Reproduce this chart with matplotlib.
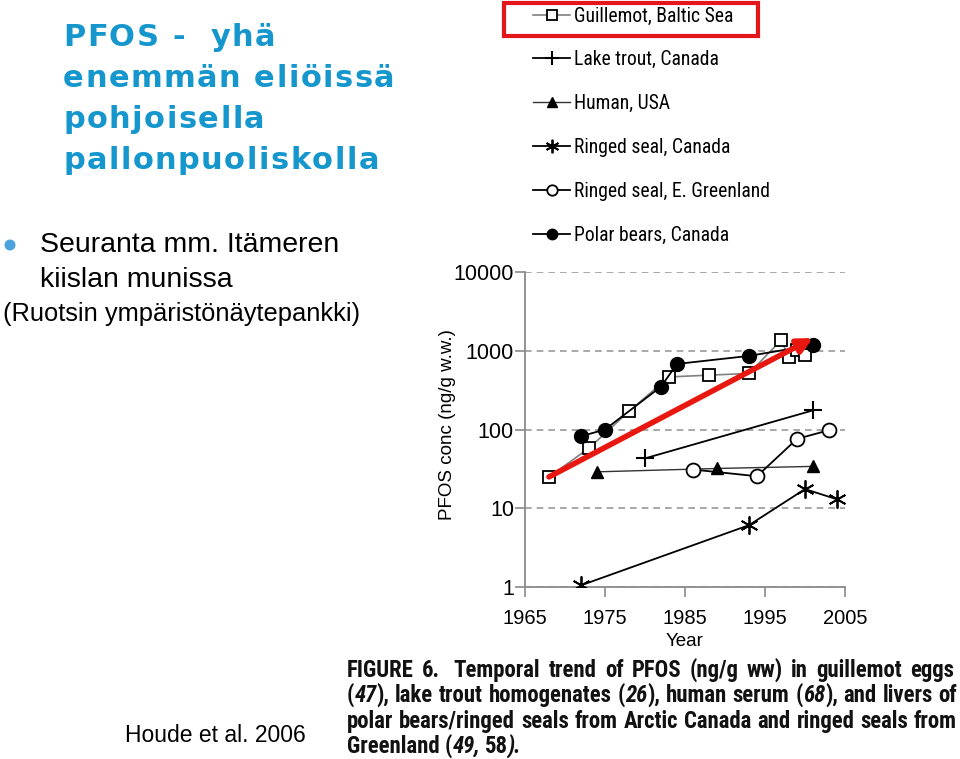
import os
import matplotlib
matplotlib.use('Agg')
import matplotlib.pyplot as plt
from matplotlib import font_manager as fm
from matplotlib.transforms import IdentityTransform
from matplotlib.patches import Rectangle, Circle
from matplotlib.ticker import FixedLocator, FixedFormatter, NullLocator

W, H = 960, 759

# data (year, PFOS ng/g w.w.)
guillemot_years = [1968, 1973, 1978, 1983, 1988, 1993, 1997, 1998, 1999, 2000]
guillemot_vals = [25, 58, 170, 465, 490, 515, 1360, 830, 1010, 890]
trout_years = [1980, 2001]
trout_vals = [43, 175]
human_years = [1974, 1989, 2001]
human_vals = [29, 32, 34]
sealca_years = [1972, 1993, 2000, 2004]
sealca_vals = [1.05, 6.1, 17.5, 13]
sealgl_years = [1986, 1994, 1999, 2003]
sealgl_vals = [31, 25.5, 76, 98]
bear_years = [1972, 1975, 1982, 1984, 1993, 2001]
bear_vals = [82, 100, 350, 680, 860, 1180]
arrow_start = (1968, 25)
arrow_end = (2001, 1450)

yticks = [1, 10, 100, 1000, 10000]
xticks = [1965, 1975, 1985, 1995, 2005]

labels = ['Guillemot, Baltic Sea', 'Lake trout, Canada', 'Human, USA',
          'Ringed seal, Canada', 'Ringed seal, E. Greenland', 'Polar bears, Canada']

title_lines = ['PFOS -  yhä', 'enemmän eliöissä', 'pohjoisella', 'pallonpuoliskolla']
caption_lines = ['FIGURE 6.  Temporal trend of PFOS (ng/g ww) in guillemot eggs',
                 '(_47_), lake trout homogenates (_26_), human serum (_68_), and livers of',
                 'polar bears/ringed seals from Arctic Canada and ringed seals from',
                 'Greenland (_49, 58_).']

plt.rcParams['font.family'] = ['Liberation Sans', 'DejaVu Sans']

fig = plt.figure(figsize=(W / 100, H / 100), dpi=100)
fig.patch.set_facecolor('white')
ren = fig.canvas.get_renderer()


def px(x, y):
    # pixel coords measured from top-left
    return x, H - y


def text_w(s, **kw):
    t = fig.text(0, 0, s + '|', transform=IdentityTransform(), **kw)
    t2 = fig.text(0, 0, '|', transform=IdentityTransform(), **kw)
    w = t.get_window_extent(ren).width - t2.get_window_extent(ren).width
    t.remove()
    t2.remove()
    return w


def text_h(s, **kw):
    t = fig.text(0, 0, s, transform=IdentityTransform(), **kw)
    h = t.get_window_extent(ren).height
    t.remove()
    return h


def tracked(x, y, s, track, **kw):
    for ch in s:
        if ch != ' ':
            fig.text(*px(x, y), ch, transform=IdentityTransform(), va='baseline', **kw)
        x += text_w(ch, **kw) + track


def split_words(line):
    words = []
    for w in line.split(' '):
        pieces = []
        for i, p in enumerate(w.split('_')):
            if p:
                pieces.append((p, 'italic' if i % 2 else 'normal'))
        words.append(pieces)
    return words


def natural_w(line, **kw):
    words = split_words(line)
    ws = sum(text_w(p, style=st, **kw) for wd in words for p, st in wd)
    return ws + text_w(' ', **kw) * (len(words) - 1)


def justified(x0, x1, y, line, justify, **kw):
    words = split_words(line)
    widths = [sum(text_w(p, style=st, **kw) for p, st in wd) for wd in words]
    sp = text_w(' ', **kw)
    if justify and len(words) > 1:
        gap = (x1 - x0 - sum(widths)) / (len(words) - 1)
    else:
        gap = sp
    x = x0
    for wd, wdw in zip(words, widths):
        if not wd:
            x += sp
            continue
        xx = x
        for p, st in wd:
            fig.text(*px(xx, y), p, transform=IdentityTransform(), va='baseline',
                     style=st, **kw)
            xx += text_w(p, style=st, **kw)
        x += wdw + gap


def pick_condensed(weight):
    cands = [('Liberation Sans Narrow', 'normal'), ('Arial Narrow', 'normal'),
             ('Roboto Condensed', 'normal'), ('DejaVu Sans', 'condensed'),
             ('DejaVu Sans Condensed', 'normal'), ('Noto Sans', 'condensed'),
             ('Noto Sans Condensed', 'normal'), ('Open Sans', 'condensed'),
             ('Open Sans Condensed', 'normal'), ('Roboto', 'condensed')]
    for fam, st in cands:
        fp = fm.FontProperties(family=fam, weight=weight, stretch=st)
        try:
            f = fm.findfont(fp, fallback_to_default=False)
        except Exception:
            continue
        name = os.path.basename(f).lower()
        if 'narrow' in name or 'condensed' in name or 'cond' in name:
            return dict(family=fam, stretch=st)
    return dict(family='Liberation Sans')


# ---- chart ----
ax = fig.add_axes([525 / W, 1 - 587 / H, 320 / W, 315 / H])
ax.set_yscale('log')
ax.set_ylim(1, 10000)
ax.set_xlim(1965, 2005)

ax.plot(guillemot_years, guillemot_vals, color='#808080', lw=1.2, marker='s', ms=9,
        mfc='white', mec='black', mew=1.3, label=labels[0], zorder=3)
ax.plot(trout_years, trout_vals, color='black', lw=1.3, marker='+', ms=13,
        mew=1.5, label=labels[1], zorder=3)
ax.plot(human_years, human_vals, color='#333333', lw=1.0, marker='^', ms=9,
        mfc='black', mec='black', label=labels[2], zorder=3)
ax.plot(sealca_years, sealca_vals, color='black', lw=1.3, marker=(6, 2, 0), ms=13,
        mew=1.3, label=labels[3], zorder=3)
ax.plot(sealgl_years, sealgl_vals, color='black', lw=1.3, marker='o', ms=10,
        mfc='white', mec='black', mew=1.3, label=labels[4], zorder=3)
ax.plot(bear_years, bear_vals, color='black', lw=1.3, marker='o', ms=10,
        mfc='black', mec='black', label=labels[5], zorder=4)

ax.annotate('', xy=arrow_end, xytext=arrow_start, zorder=6,
            arrowprops=dict(arrowstyle='-|>', color='#e8170f', lw=4,
                            mutation_scale=22, shrinkA=0, shrinkB=0))

for s in ['top', 'right']:
    ax.spines[s].set_visible(False)
for s in ['left', 'bottom']:
    ax.spines[s].set_color('#8a8a8a')
    ax.spines[s].set_linewidth(1.3)

ax.yaxis.set_major_locator(FixedLocator(yticks))
ax.yaxis.set_major_formatter(FixedFormatter([str(v) for v in yticks]))
ax.yaxis.set_minor_locator(NullLocator())
ax.set_xticks(xticks)
ax.set_xticklabels([str(v) for v in xticks])
ax.tick_params(axis='both', direction='out', length=7, width=1.2, color='#8a8a8a',
               labelcolor='black')
ax.tick_params(axis='y', pad=1, labelsize=15.5)
ax.tick_params(axis='x', pad=9, labelsize=14.5)
ax.yaxis.grid(True, linestyle=(0, (4, 3)), color='#9a9a9a', lw=1.2)
ax.set_axisbelow(True)

ax.set_ylabel('PFOS conc (ng/g w.w.)', fontsize=13.5, color='black')
ax.yaxis.set_label_coords(-0.215, 0.517)
ax.set_xlabel('Year', fontsize=13.5, color='black')
ax.xaxis.set_label_coords(0.5, -0.145)

# legend: narrow face, sized so the first label spans ~159 px
leg_font = pick_condensed('normal')
leg_fs = min(16, 10 * 159 / text_w(labels[0], fontsize=10, **leg_font))
fs_px = leg_fs * 100 / 72
row_h = text_h(labels[4], fontsize=leg_fs, **leg_font)
leg = ax.legend(loc='upper left', bbox_to_anchor=(533 / W, 1 - (16 - row_h / 2) / H),
                bbox_transform=fig.transFigure, frameon=False,
                prop=fm.FontProperties(size=leg_fs, **leg_font),
                handlelength=37 / fs_px, handletextpad=4 / fs_px,
                labelspacing=(43.8 - row_h) / fs_px, markerscale=0.75,
                borderpad=0, borderaxespad=0, numpoints=1)
for t in leg.get_texts():
    t.set_color('black')

fig.patches.append(Rectangle(px(504, 36), 254, 33, transform=IdentityTransform(),
                             fill=False, ec='#e3171b', lw=3))

# ---- caption ----
cap_kw = dict(weight='bold', fontsize=16.7, color='#111111')
cap_kw.update(pick_condensed('bold'))
nat = max(natural_w(l, **cap_kw) for l in caption_lines)
if nat > 606:
    cap_kw['fontsize'] = cap_kw['fontsize'] * 606 / nat
cap_base = [677, 702, 728, 753]
for i, (line, yb) in enumerate(zip(caption_lines, cap_base)):
    justified(347, 957, yb, line, i < 3, **cap_kw)

# ---- left text ----
title_kw = dict(fontsize=22, weight='bold', color='#1596cc', family='DejaVu Sans')
title_base = [46, 87, 128, 169]
for line, yb in zip(title_lines, title_base):
    tracked(63, yb, line, 1.5, **title_kw)

fig.patches.append(Circle(px(10, 245), 5.5, transform=IdentityTransform(),
                          fc='#4da3df', ec='none'))
body_kw = dict(color='black', transform=IdentityTransform(), va='baseline')
fig.text(*px(40, 252), 'Seuranta mm. Itämeren', fontsize=20.5, **body_kw)
fig.text(*px(40, 287), 'kiislan munissa', fontsize=20.5, **body_kw)
fig.text(*px(3, 321), '(Ruotsin ympäristönäytepankki)', fontsize=18.4, **body_kw)
fig.text(*px(125, 742), 'Houde et al. 2006', fontsize=16.5, color='black',
         transform=IdentityTransform(), va='baseline')

fig.savefig('out.png', dpi=100, facecolor='white')
